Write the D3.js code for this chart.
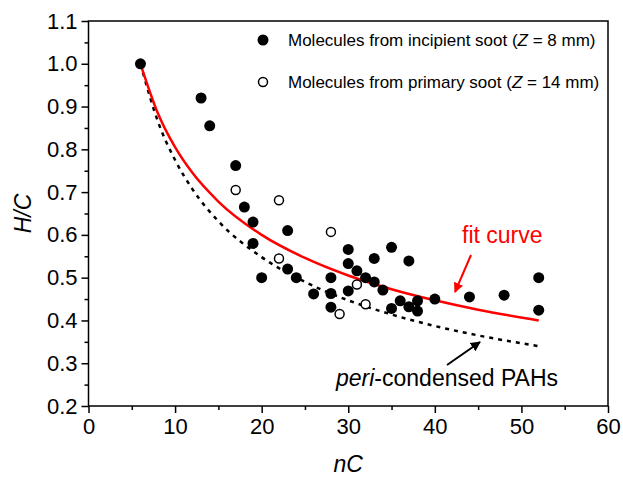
<!DOCTYPE html>
<html>
<head>
  <meta charset="UTF-8">
  <script src="https://cdn.jsdelivr.net/npm/d3@7"></script>
  <style>
      * { box-sizing: border-box; }
      html, body { margin: 0; padding: 0; background: #fff; }
      text { font-family: Arial, "Liberation Sans", sans-serif; fill: #000; }
  </style>
</head>
<body>
<div id="root"></div>
<script>

  // molecules from incipient soot (Z = 8 mm), filled markers
  var incipientNC = [6, 13, 14, 17, 18, 19, 19, 20, 23, 23, 24, 26, 28, 28, 28, 30, 30, 30, 31, 32,
                     33, 33, 34, 35, 35, 36, 37, 37, 38, 38, 40, 44, 48, 52, 52];
  var incipientHC = [1.0, 0.92, 0.855, 0.762, 0.665, 0.63, 0.58, 0.50, 0.61, 0.52, 0.50, 0.462, 0.50, 0.463, 0.431, 0.566, 0.533, 0.469, 0.516, 0.50,
                     0.545, 0.49, 0.471, 0.571, 0.428, 0.446, 0.539, 0.432, 0.446, 0.422, 0.45, 0.455, 0.459, 0.50, 0.424];

  // molecules from primary soot (Z = 14 mm), open markers
  var primaryNC = [17, 22, 22, 28, 29, 31, 32];
  var primaryHC = [0.705, 0.681, 0.545, 0.607, 0.415, 0.484, 0.438];

  // curves
  var curveNC = [6, 8, 10, 12, 15, 20, 25, 30, 35, 40, 45, 52];
  var fitHC   = [1.0, 0.885, 0.805, 0.745, 0.678, 0.600, 0.546, 0.505, 0.473, 0.447, 0.425, 0.400];
  var periHC  = [1.0, 0.866, 0.775, 0.707, 0.632, 0.548, 0.490, 0.447, 0.414, 0.387, 0.365, 0.340];

  var xTicks = [0, 10, 20, 30, 40, 50, 60];
  var yTicks = [0.2, 0.3, 0.4, 0.5, 0.6, 0.7, 0.8, 0.9, 1.0, 1.1];

  var W = 623, H = 477;
  var plot = {left: 88.5, right: 608, top: 21, bottom: 406};

  var x = d3.scaleLinear().domain([0, 60]).range([plot.left, plot.right]);
  var y = d3.scaleLinear().domain([0.2, 1.1]).range([plot.bottom, plot.top]);

  var svg = d3.select("#root").append("svg")
    .attr("width", W)
    .attr("height", H);

  var defs = svg.append("defs");
  function arrowHead(id, color) {
    defs.append("marker")
      .attr("id", id)
      .attr("viewBox", "0 0 10 10")
      .attr("refX", 9).attr("refY", 5)
      .attr("markerWidth", 5).attr("markerHeight", 5)
      .attr("markerUnits", "strokeWidth")
      .attr("orient", "auto")
      .append("path")
      .attr("d", "M0,0 L10,5 L0,10 z")
      .attr("fill", color);
  }
  arrowHead("arrRed", "#ff0000");
  arrowHead("arrBlack", "#000");

  // frame
  svg.append("rect")
    .attr("x", plot.left).attr("y", plot.top)
    .attr("width", plot.right - plot.left)
    .attr("height", plot.bottom - plot.top)
    .attr("fill", "none")
    .attr("stroke", "#000")
    .attr("stroke-width", 1.5);

  // x axis
  var xAxis = d3.axisBottom(x).tickValues(xTicks).tickSize(7).tickPadding(4).tickFormat(d3.format("d"));
  var gx = svg.append("g").attr("transform", "translate(0," + plot.bottom + ")").call(xAxis);
  gx.select(".domain").remove();
  gx.selectAll(".tick line").attr("stroke-width", 1.5);
  gx.selectAll(".tick text").style("font-size", "22px").attr("dy", "0.75em");
  var gxm = svg.append("g").attr("transform", "translate(0," + plot.bottom + ")")
    .call(d3.axisBottom(x).tickValues([5, 15, 25, 35, 45, 55]).tickSize(4).tickFormat(""));
  gxm.select(".domain").remove();
  gxm.selectAll(".tick line").attr("stroke-width", 1.5);

  // y axis
  var yAxis = d3.axisLeft(y).tickValues(yTicks).tickSize(7).tickPadding(4).tickFormat(d3.format(".1f"));
  var gy = svg.append("g").attr("transform", "translate(" + plot.left + ",0)").call(yAxis);
  gy.select(".domain").remove();
  gy.selectAll(".tick line").attr("stroke-width", 1.5);
  gy.selectAll(".tick text").style("font-size", "22px");
  var gym = svg.append("g").attr("transform", "translate(" + plot.left + ",0)")
    .call(d3.axisLeft(y).tickValues([0.25, 0.35, 0.45, 0.55, 0.65, 0.75, 0.85, 0.95, 1.05]).tickSize(4).tickFormat(""));
  gym.select(".domain").remove();
  gym.selectAll(".tick line").attr("stroke-width", 1.5);

  // axis titles
  svg.append("text")
    .attr("x", (plot.left + plot.right) / 2).attr("y", 472)
    .attr("text-anchor", "middle")
    .style("font-size", "23px").style("font-style", "italic")
    .text("nC");
  svg.append("text")
    .attr("transform", "translate(31," + ((plot.top + plot.bottom) / 2) + ") rotate(-90)")
    .attr("text-anchor", "middle")
    .style("font-size", "23px").style("font-style", "italic")
    .text("H/C");

  // curves
  var line = d3.line().curve(d3.curveMonotoneX);
  svg.append("path")
    .attr("d", line(curveNC.map(function(d, i) { return [x(d), y(periHC[i])]; })))
    .attr("fill", "none")
    .attr("stroke", "#000")
    .attr("stroke-width", 2.5)
    .attr("stroke-dasharray", "4,5");
  svg.append("path")
    .attr("d", line(curveNC.map(function(d, i) { return [x(d), y(fitHC[i])]; })))
    .attr("fill", "none")
    .attr("stroke", "#ff0000")
    .attr("stroke-width", 2.5);

  // points
  svg.append("g").selectAll("circle")
    .data(primaryNC)
    .join("circle")
    .attr("cx", function(d) { return x(d); })
    .attr("cy", function(d, i) { return y(primaryHC[i]); })
    .attr("r", 4.5)
    .attr("fill", "#fff")
    .attr("stroke", "#000")
    .attr("stroke-width", 1.5);
  svg.append("g").selectAll("circle")
    .data(incipientNC)
    .join("circle")
    .attr("cx", function(d) { return x(d); })
    .attr("cy", function(d, i) { return y(incipientHC[i]); })
    .attr("r", 5.5)
    .attr("fill", "#000");

  // legend
  var legend = svg.append("g");
  legend.append("circle").attr("cx", 263).attr("cy", 40).attr("r", 5.5).attr("fill", "#000");
  legend.append("circle").attr("cx", 263).attr("cy", 82).attr("r", 4.5)
    .attr("fill", "#fff").attr("stroke", "#000").attr("stroke-width", 1.5);
  function legendText(yy, before, after) {
    var t = legend.append("text").attr("x", 288).attr("y", yy).style("font-size", "17px");
    t.append("tspan").text(before);
    t.append("tspan").style("font-style", "italic").text("Z");
    t.append("tspan").text(after);
  }
  legendText(46, "Molecules from incipient soot (", " = 8 mm)");
  legendText(88, "Molecules from primary soot (", " = 14 mm)");

  // annotations
  svg.append("text")
    .attr("x", 462).attr("y", 243)
    .style("font-size", "23px")
    .style("fill", "#ff0000")
    .text("fit curve");
  svg.append("line")
    .attr("x1", 471).attr("y1", 255).attr("x2", 455).attr("y2", 292)
    .attr("stroke", "#ff0000").attr("stroke-width", 2)
    .attr("marker-end", "url(#arrRed)");

  var peri = svg.append("text")
    .attr("x", 336).attr("y", 386)
    .style("font-size", "23px");
  peri.append("tspan").style("font-style", "italic").text("peri");
  peri.append("tspan").text("-condensed PAHs");
  svg.append("line")
    .attr("x1", 447).attr("y1", 365).attr("x2", 480).attr("y2", 342)
    .attr("stroke", "#000").attr("stroke-width", 2)
    .attr("marker-end", "url(#arrBlack)");

</script>
</body>
</html>
